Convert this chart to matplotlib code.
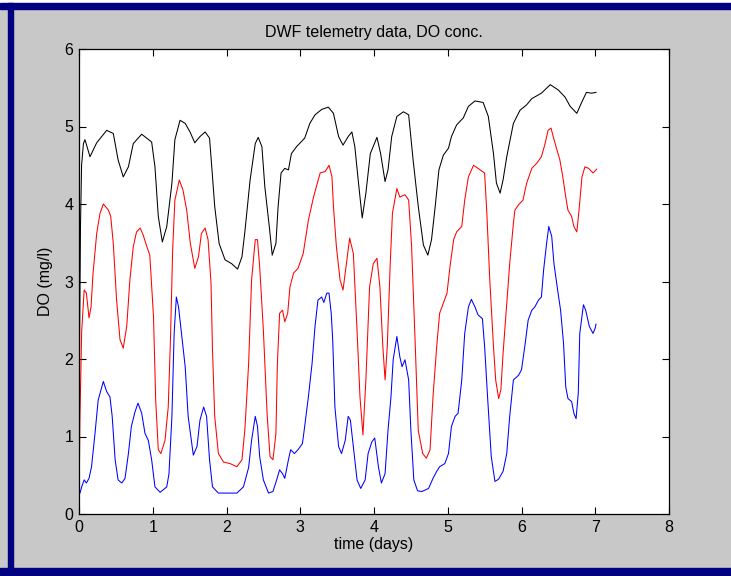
import numpy as np
import matplotlib
matplotlib.use("Agg")
import matplotlib.pyplot as plt
from matplotlib.patches import Rectangle

plt.rcParams['font.family'] = ['Liberation Sans Narrow', 'DejaVu Sans Condensed', 'Liberation Sans', 'DejaVu Sans']

# DO readings, (time in days, mg/l)
black_pts = [(0.0, 0.78), (0.005, 1.6), (0.01, 2.5), (0.02, 3.7), (0.035, 4.5), (0.06, 4.78),
             (0.081, 4.83), (0.149, 4.61), (0.24, 4.79), (0.375, 4.95), (0.465, 4.91), (0.53, 4.57),
             (0.60, 4.35), (0.67, 4.48), (0.736, 4.78), (0.85, 4.9), (0.985, 4.8), (1.03, 4.48),
             (1.075, 3.84), (1.13, 3.51), (1.19, 3.71), (1.26, 4.27), (1.30, 4.83), (1.37, 5.08),
             (1.44, 5.04), (1.505, 4.93), (1.57, 4.79), (1.64, 4.87), (1.71, 4.93), (1.77, 4.85),
             (1.80, 4.48), (1.84, 3.97), (1.90, 3.49), (1.98, 3.28), (2.07, 3.23), (2.15, 3.16),
             (2.21, 3.32), (2.25, 3.65), (2.32, 4.31), (2.39, 4.78), (2.43, 4.86), (2.48, 4.74),
             (2.52, 4.22), (2.58, 3.71), (2.62, 3.34), (2.67, 3.49), (2.70, 3.97), (2.74, 4.40),
             (2.79, 4.46), (2.84, 4.44), (2.88, 4.65), (2.95, 4.74), (3.06, 4.85), (3.13, 5.04),
             (3.20, 5.15), (3.29, 5.22), (3.38, 5.25), (3.45, 5.17), (3.52, 4.87), (3.58, 4.76),
             (3.65, 4.87), (3.70, 4.93), (3.74, 4.74), (3.79, 4.27), (3.84, 3.82), (3.89, 4.14),
             (3.95, 4.65), (4.04, 4.86), (4.09, 4.65), (4.15, 4.29), (4.19, 4.44), (4.24, 4.87),
             (4.31, 5.13), (4.40, 5.19), (4.47, 5.15), (4.53, 4.57), (4.60, 3.97), (4.67, 3.47),
             (4.73, 3.34), (4.78, 3.54), (4.83, 3.97), (4.88, 4.44), (4.94, 4.63), (5.01, 4.72),
             (5.05, 4.87), (5.12, 5.02), (5.21, 5.11), (5.28, 5.26), (5.37, 5.33), (5.48, 5.31),
             (5.55, 5.13), (5.62, 4.65), (5.66, 4.27), (5.71, 4.14), (5.75, 4.31), (5.80, 4.61),
             (5.89, 5.04), (5.98, 5.21), (6.07, 5.28), (6.14, 5.36), (6.27, 5.43), (6.39, 5.54),
             (6.50, 5.47), (6.59, 5.38), (6.66, 5.26), (6.75, 5.17), (6.82, 5.32), (6.88, 5.44),
             (6.95, 5.43), (7.01, 5.44)]

red_pts = [(0.0, 0.0), (0.012, 1.2), (0.036, 2.35), (0.07, 2.89), (0.10, 2.85), (0.136, 2.53),
           (0.163, 2.67), (0.19, 3.1), (0.24, 3.62), (0.285, 3.88), (0.33, 4.0), (0.40, 3.92),
           (0.43, 3.84), (0.465, 3.49), (0.51, 2.76), (0.556, 2.25), (0.60, 2.14), (0.647, 2.42),
           (0.69, 3.02), (0.736, 3.45), (0.78, 3.64), (0.83, 3.69), (0.87, 3.6), (0.92, 3.45),
           (0.96, 3.34), (1.01, 2.55), (1.04, 1.47), (1.075, 0.83), (1.11, 0.78), (1.166, 0.95),
           (1.21, 1.38), (1.24, 2.25), (1.27, 3.41), (1.30, 4.05), (1.36, 4.31), (1.41, 4.18),
           (1.46, 3.92), (1.51, 3.49), (1.57, 3.17), (1.62, 3.32), (1.66, 3.62), (1.71, 3.69),
           (1.75, 3.54), (1.79, 2.98), (1.81, 2.12), (1.84, 1.26), (1.89, 0.78), (1.96, 0.67),
           (2.05, 0.65), (2.14, 0.61), (2.21, 0.70), (2.25, 1.1), (2.30, 1.94), (2.34, 3.02),
           (2.39, 3.54), (2.42, 3.54), (2.45, 3.19), (2.50, 2.37), (2.55, 1.30), (2.59, 0.74),
           (2.63, 0.70), (2.67, 1.04), (2.69, 1.94), (2.72, 2.59), (2.76, 2.63), (2.79, 2.48),
           (2.83, 2.59), (2.86, 2.93), (2.91, 3.11), (2.97, 3.17), (3.04, 3.36), (3.11, 3.79),
           (3.18, 4.09), (3.27, 4.40), (3.34, 4.42), (3.39, 4.50), (3.43, 4.35), (3.45, 3.97),
           (3.49, 3.45), (3.54, 3.02), (3.58, 2.89), (3.62, 3.19), (3.67, 3.56), (3.72, 3.36),
           (3.77, 2.37), (3.81, 1.51), (3.85, 1.02), (3.89, 1.73), (3.94, 2.93), (3.99, 3.23),
           (4.04, 3.30), (4.08, 2.93), (4.12, 2.16), (4.15, 1.73), (4.18, 2.16), (4.22, 3.23),
           (4.25, 3.88), (4.31, 4.20), (4.35, 4.09), (4.42, 4.12), (4.47, 4.05), (4.51, 3.45),
           (4.56, 2.16), (4.60, 1.08), (4.66, 0.78), (4.71, 0.72), (4.76, 0.83), (4.80, 1.51),
           (4.85, 2.16), (4.89, 2.59), (4.94, 2.72), (4.99, 2.85), (5.03, 3.19), (5.08, 3.54),
           (5.12, 3.64), (5.19, 3.71), (5.23, 4.05), (5.28, 4.35), (5.35, 4.50), (5.44, 4.44),
           (5.50, 4.40), (5.53, 3.88), (5.57, 3.02), (5.62, 2.16), (5.65, 1.73), (5.69, 1.49),
           (5.72, 1.60), (5.75, 2.07), (5.80, 2.72), (5.84, 3.23), (5.89, 3.75), (5.91, 3.92),
           (5.96, 3.99), (6.02, 4.05), (6.07, 4.27), (6.14, 4.46), (6.21, 4.53), (6.27, 4.61),
           (6.32, 4.78), (6.36, 4.95), (6.40, 4.98), (6.43, 4.87), (6.48, 4.70), (6.52, 4.57),
           (6.56, 4.35), (6.60, 4.09), (6.63, 3.92), (6.68, 3.84), (6.71, 3.71), (6.75, 3.64),
           (6.78, 3.92), (6.82, 4.35), (6.86, 4.48), (6.91, 4.46), (6.97, 4.40), (7.02, 4.45)]

blue_pts = [(0.0, 0.3), (0.014, 0.27), (0.036, 0.35), (0.07, 0.44), (0.10, 0.40), (0.136, 0.46),
            (0.17, 0.61), (0.217, 1.04), (0.26, 1.47), (0.33, 1.71), (0.375, 1.58), (0.42, 1.51),
            (0.45, 1.26), (0.49, 0.70), (0.53, 0.44), (0.58, 0.40), (0.624, 0.46), (0.67, 0.78),
            (0.71, 1.13), (0.76, 1.32), (0.80, 1.43), (0.85, 1.30), (0.895, 1.04), (0.94, 0.95),
            (0.985, 0.70), (1.03, 0.35), (1.10, 0.28), (1.19, 0.35), (1.22, 0.52), (1.26, 1.26),
            (1.29, 2.33), (1.32, 2.80), (1.35, 2.67), (1.39, 2.33), (1.44, 1.90), (1.48, 1.26),
            (1.55, 0.76), (1.60, 0.87), (1.64, 1.21), (1.69, 1.38), (1.73, 1.26), (1.77, 0.70),
            (1.81, 0.35), (1.89, 0.27), (1.98, 0.27), (2.14, 0.27), (2.23, 0.35), (2.30, 0.6),
            (2.34, 0.95), (2.39, 1.26), (2.42, 1.13), (2.45, 0.74), (2.50, 0.44), (2.57, 0.27),
            (2.63, 0.29), (2.68, 0.44), (2.72, 0.57), (2.76, 0.52), (2.79, 0.46), (2.84, 0.70),
            (2.87, 0.83), (2.92, 0.78), (2.97, 0.83), (3.03, 0.91), (3.06, 1.13), (3.11, 1.51),
            (3.16, 1.94), (3.20, 2.42), (3.24, 2.76), (3.29, 2.80), (3.32, 2.73), (3.36, 2.85),
            (3.39, 2.85), (3.42, 2.59), (3.44, 2.25), (3.47, 1.38), (3.52, 0.87), (3.56, 0.78),
            (3.61, 0.95), (3.65, 1.26), (3.68, 1.21), (3.73, 0.78), (3.77, 0.44), (3.82, 0.33),
            (3.88, 0.44), (3.92, 0.78), (3.97, 0.93), (4.01, 0.98), (4.06, 0.61), (4.10, 0.40),
            (4.15, 0.52), (4.19, 1.08), (4.23, 1.51), (4.26, 1.99), (4.31, 2.29), (4.35, 2.03),
            (4.38, 1.90), (4.42, 1.99), (4.47, 1.73), (4.50, 1.08), (4.54, 0.44), (4.59, 0.30),
            (4.65, 0.29), (4.74, 0.33), (4.80, 0.46), (4.85, 0.55), (4.89, 0.61), (4.96, 0.65),
            (5.01, 0.78), (5.05, 1.13), (5.10, 1.26), (5.14, 1.30), (5.19, 1.73), (5.23, 2.33),
            (5.28, 2.67), (5.32, 2.77), (5.37, 2.67), (5.41, 2.57), (5.47, 2.52), (5.50, 2.16),
            (5.54, 1.51), (5.59, 0.74), (5.64, 0.42), (5.69, 0.45), (5.75, 0.55), (5.80, 0.78),
            (5.84, 1.26), (5.89, 1.73), (5.96, 1.79), (6.00, 1.86), (6.05, 2.20), (6.09, 2.50),
            (6.14, 2.63), (6.18, 2.67), (6.23, 2.76), (6.27, 2.80), (6.30, 3.15), (6.34, 3.49),
            (6.37, 3.71), (6.41, 3.58), (6.44, 3.23), (6.49, 2.89), (6.53, 2.63), (6.57, 2.20),
            (6.60, 1.64), (6.63, 1.49), (6.68, 1.45), (6.71, 1.30), (6.74, 1.23), (6.77, 1.56),
            (6.79, 2.33), (6.84, 2.70), (6.87, 2.63), (6.92, 2.42), (6.97, 2.33), (7.00, 2.40),
            (7.01, 2.45)]

x_ticks = [0, 1, 2, 3, 4, 5, 6, 7, 8]
y_ticks = [0, 1, 2, 3, 4, 5, 6]

W, H = 731, 576
fig = plt.figure(figsize=(W / 100, H / 100), dpi=100, facecolor='#c8c8c8')

# window frame (MATLAB figure window look)
navy = '#000080'
fig.add_artist(Rectangle((0, 1 - 3 / H), 1, 3 / H, transform=fig.transFigure, color='white', zorder=0))
fig.add_artist(Rectangle((0, 1 - 9 / H), 1, 6 / H, transform=fig.transFigure, color=navy, zorder=1))
fig.add_artist(Rectangle((8 / W, 0), 5 / W, 1 - 3 / H, transform=fig.transFigure, color=navy, zorder=1))
fig.add_artist(Rectangle((0, 0), 1, 8 / H, transform=fig.transFigure, color=navy, zorder=1))

ax = fig.add_axes([79 / W, 1 - 514 / H, 590 / W, 465 / H])
ax.set_facecolor('white')

for pts, c in [(black_pts, 'k'), (red_pts, 'r'), (blue_pts, 'b')]:
    t, v = zip(*pts)
    ax.plot(t, v, color=c, lw=0.75)

ax.set_xlim(0, 8)
ax.set_ylim(0, 6)
ax.set_xticks(x_ticks)
ax.set_yticks(y_ticks)
ax.tick_params(direction='in', length=5, width=0.8, top=True, right=True, labelsize=11.5, pad=4)
for s in ax.spines.values():
    s.set_linewidth(0.9)

ax.set_title('DWF telemetry data, DO conc.', fontsize=11.5, pad=9)
ax.set_xlabel('time (days)', fontsize=11.5, labelpad=2)
ax.set_ylabel('DO (mg/l)', fontsize=11.5, labelpad=8)

fig.savefig('out.png', dpi=100, facecolor=fig.get_facecolor())
